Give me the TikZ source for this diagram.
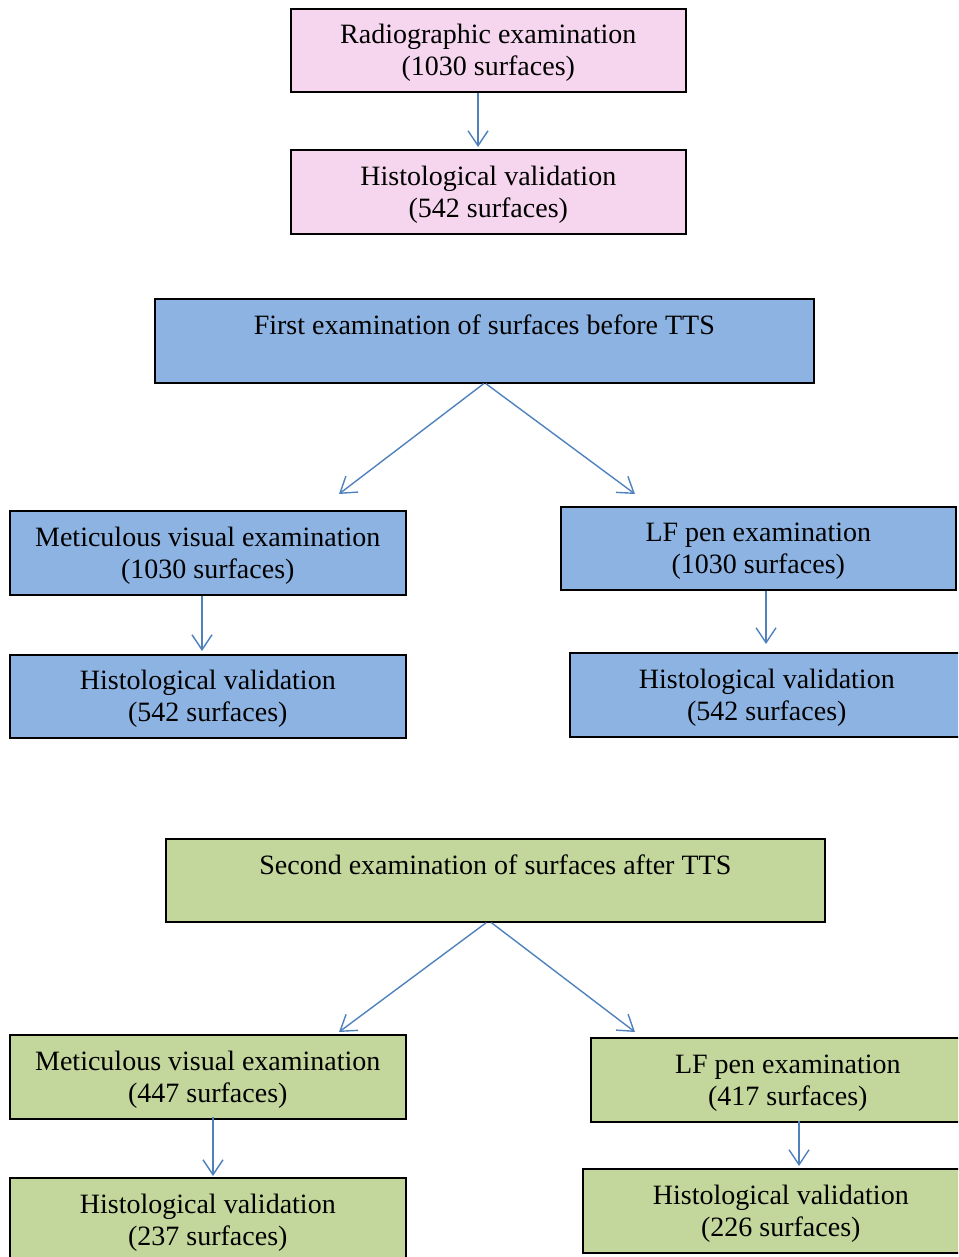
\documentclass[tikz,border=0pt]{standalone}
\usepackage{fontspec}
\setmainfont{Liberation Serif}
\usetikzlibrary{arrows.meta}
\definecolor{pinkf}{HTML}{F5D6EE}
\definecolor{bluef}{HTML}{8DB3E2}
\definecolor{greenf}{HTML}{C3D69B}
\definecolor{arrowblue}{HTML}{4F81BD}
\newcommand\twolines[2]{\raisebox{-3pt}[\height][\depth]{\begin{tabular}{@{}c@{}}#1\\#2\end{tabular}}}
\begin{document}
\begin{tikzpicture}[x=1pt,y=-1pt,
  box/.style={draw=black, line width=1.6pt, rectangle, inner sep=0pt,
    anchor=north west, font=\fontsize{28}{32}\selectfont},
  conn/.style={draw=arrowblue, line width=1.4pt,
    -{Straight Barb[length=15pt,width=20pt,line width=1.4pt]}}]
\useasboundingbox (0,0) rectangle (958,1257);
\clip (0,0) rectangle (958,1257);
% top (pink)
\node[box, fill=pinkf, minimum width=395pt, minimum height=83pt] (radio) at (290,8)
  {\twolines{Radiographic examination}{(1030 surfaces)}};
\node[box, fill=pinkf, minimum width=395pt, minimum height=84pt] (histA) at (290,149)
  {\twolines{Histological validation}{(542 surfaces)}};
% first exam (blue)
\node[box, fill=bluef, minimum width=659pt, minimum height=84pt, align=center] (first) at (154,298)
  {First examination of surfaces before TTS\\\mbox{}};
\node[box, fill=bluef, minimum width=396pt, minimum height=84pt] (visB) at (9,510)
  {\twolines{Meticulous visual examination}{(1030 surfaces)}};
\node[box, fill=bluef, minimum width=395pt, minimum height=83pt] (lfB) at (560,506)
  {\twolines{LF pen examination}{(1030 surfaces)}};
\node[box, fill=bluef, minimum width=396pt, minimum height=83pt] (histBL) at (9,654)
  {\twolines{Histological validation}{(542 surfaces)}};
\node[box, fill=bluef, minimum width=394pt, minimum height=84pt] (histBR) at (569,652)
  {\twolines{Histological validation}{(542 surfaces)}};
% second exam (green)
\node[box, fill=greenf, minimum width=659pt, minimum height=83pt, align=center] (second) at (165,838)
  {Second examination of surfaces after TTS\\\mbox{}};
\node[box, fill=greenf, minimum width=396pt, minimum height=84pt] (visC) at (9,1034)
  {\twolines{Meticulous visual examination}{(447 surfaces)}};
\node[box, fill=greenf, minimum width=394pt, minimum height=84pt] (lfC) at (590,1037)
  {\twolines{LF pen examination}{(417 surfaces)}};
\node[box, fill=greenf, minimum width=396pt, minimum height=84pt] (histCL) at (9,1177)
  {\twolines{Histological validation}{(237 surfaces)}};
\node[box, fill=greenf, minimum width=396pt, minimum height=84pt] (histCR) at (582,1168)
  {\twolines{Histological validation}{(226 surfaces)}};
% arrow end points
\coordinate (e1) at (478,147);
\coordinate (e2) at (339,494);
\coordinate (e3) at (635,494);
\coordinate (e4) at (202,651);
\coordinate (e5) at (766,644);
\coordinate (e6) at (339,1032);
\coordinate (e7) at (635,1032);
\coordinate (e8) at (213,1176);
\coordinate (e9) at (799,1166);
% connectors
\draw[conn] (radio.south -| e1) -- (e1);
\draw[conn] ([xshift=-0.5pt]first.south) -- (e2);
\draw[conn] ([xshift=1.5pt]first.south) -- (e3);
\draw[conn] (visB.south -| e4) -- (e4);
\draw[conn] (lfB.south -| e5) -- (e5);
\draw[conn] ([xshift=-9pt]second.south) -- (e6);
\draw[conn] ([xshift=-4pt]second.south) -- (e7);
\draw[conn] ([yshift=3pt]visC.south -| e8) -- (e8);
\draw[conn] ([yshift=2pt]lfC.south -| e9) -- (e9);
\end{tikzpicture}
\end{document}
